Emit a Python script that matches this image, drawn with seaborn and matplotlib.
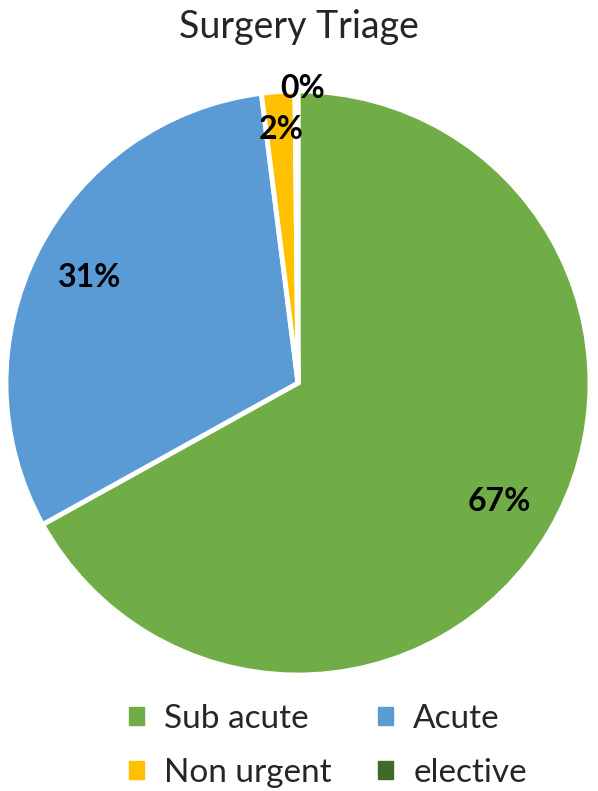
import numpy as np
import matplotlib
matplotlib.use("Agg")
import matplotlib.pyplot as plt
import matplotlib.patches as mpatches
import seaborn as sns

sns.set_theme(style="white")
plt.rcParams["font.family"] = ["Lato", "DejaVu Sans"]

# data
categories = ["Sub acute", "Acute", "Non urgent", "elective"]
counts = [401, 186, 11, 1]
colors = ["#70AD47", "#5B9BD5", "#FFC000", "#43682B"]
label_dist = [0.80, 0.80, 0.87, 1.01]

fig = plt.figure(figsize=(5.98, 7.91), dpi=100)
ax = fig.add_axes([6 / 598, 116 / 791, 584 / 598, 584 / 791])

wedges, _ = ax.pie(counts, colors=colors, startangle=90, counterclock=False,
                   wedgeprops=dict(edgecolor="white", linewidth=3.5))
ax.set_xlim(-1, 1)
ax.set_ylim(-1, 1)
ax.set_aspect("equal")
ax.axis("off")

total = sum(counts)
for w, c, d in zip(wedges, counts, label_dist):
    ang = np.deg2rad((w.theta1 + w.theta2) / 2)
    ax.text(d * np.cos(ang) + 0.02 * (d > 1), d * np.sin(ang), f"{round(100 * c / total):.0f}%",
            ha="center", va="center", fontsize=23, fontweight="bold", color="black")

fig.text(0.5, 1 - 27 / 791, "Surgery Triage", ha="center", va="center", fontsize=27)

handles = [mpatches.Patch(color=col, label=cat) for col, cat in zip(colors, categories)]
# legend fills column-wise, reorder so rows read Sub acute/Acute, Non urgent/elective
order = [0, 2, 1, 3]
fig.legend(handles=[handles[i] for i in order], ncol=2, loc="center",
           bbox_to_anchor=(328 / 598, 1 - 746 / 791),
           frameon=False, fontsize=24, handlelength=0.45, handleheight=0.45,
           handletextpad=0.6, columnspacing=1.4, labelspacing=0.72)

fig.savefig("out.png", dpi=100, facecolor="white")
